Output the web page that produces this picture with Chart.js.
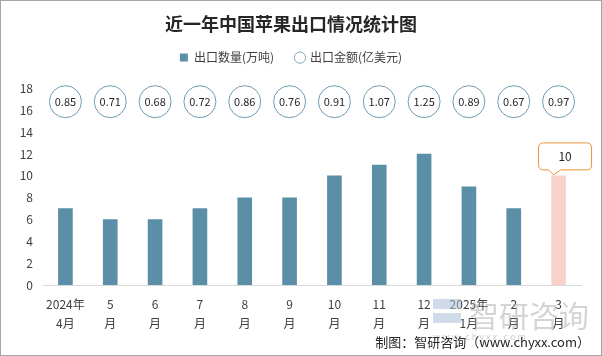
<!DOCTYPE html>
<html><head><meta charset="utf-8">
<script src="https://cdn.jsdelivr.net/npm/chart.js@4/dist/chart.umd.min.js"></script>
<style>
html,body{margin:0;padding:0;background:#fff;}
#wrap{width:602px;height:356px;box-sizing:border-box;border:1px solid #a6a6a6;position:relative;}
canvas{display:block;}
</style></head><body>
<div id="wrap"><canvas id="c" width="600" height="354"></canvas></div>
<script>
const categories = [["2024年","4月"],["5","月"],["6","月"],["7","月"],["8","月"],["9","月"],["10","月"],["11","月"],["12","月"],["2025年","1月"],["2","月"],["3","月"]];
const volume = [7,6,6,7,8,8,10,11,12,9,7,10];
const amount = [0.85,0.71,0.68,0.72,0.86,0.76,0.91,1.07,1.25,0.89,0.67,0.97];
const yTicks = [0,2,4,6,8,10,12,14,16,18];
const FONT = '"Noto Sans CJK SC","Noto Sans",sans-serif';
const barColor = '#5b8fa8';
const lastColor = '#f8d2c8';

const legendGap = {
  id:'legendGap',
  beforeInit(chart){
    const lg = chart.legend; const orig = lg.fit;
    lg.fit = function(){ orig.call(this); this.height += 15; };
  }
};

const overlay = {
  id:'overlay',
  afterDatasetsDraw(chart){
    const ctx = chart.ctx, xs = chart.scales.x, ys = chart.scales.y;
    const cy = ys.getPixelForValue(16.8);
    ctx.save();
    amount.forEach((v,i)=>{
      const cx = xs.getPixelForValue(i);
      ctx.beginPath(); ctx.arc(cx,cy,16,0,Math.PI*2);
      ctx.fillStyle='#fff'; ctx.fill();
      ctx.lineWidth=1; ctx.strokeStyle='#6f9bb1'; ctx.stroke();
      ctx.fillStyle='#262626'; ctx.font='11px '+FONT;
      ctx.textAlign='center'; ctx.textBaseline='middle';
      ctx.fillText(v.toFixed(2),cx,cy+0.5);
    });
    const li = volume.length-1;
    const bx = xs.getPixelForValue(li), by = ys.getPixelForValue(volume[li]);
    const w=53,h=27, left=bx-20, top=by-33, r=5;
    const bottom=top+h;
    ctx.beginPath();
    ctx.moveTo(left+r,top); ctx.lineTo(left+w-r,top); ctx.quadraticCurveTo(left+w,top,left+w,top+r);
    ctx.lineTo(left+w,bottom-r); ctx.quadraticCurveTo(left+w,bottom,left+w-r,bottom);
    ctx.lineTo(bx+2,bottom); ctx.lineTo(bx-5,by-1); ctx.lineTo(bx-10,bottom);
    ctx.lineTo(left+r,bottom); ctx.quadraticCurveTo(left,bottom,left,bottom-r);
    ctx.lineTo(left,top+r); ctx.quadraticCurveTo(left,top,left+r,top);
    ctx.closePath();
    ctx.fillStyle='#fff'; ctx.fill(); ctx.strokeStyle='#e8923a'; ctx.lineWidth=1; ctx.stroke();
    ctx.fillStyle='#262626'; ctx.font='12px '+FONT; ctx.textAlign='center'; ctx.textBaseline='middle';
    ctx.fillText(String(volume[li]), left+w/2, top+h/2);
    // watermark
    ctx.fillStyle='rgba(160,160,160,0.45)';
    ctx.font='30px '+FONT; ctx.textAlign='left'; ctx.textBaseline='alphabetic';
    ctx.fillText('智研咨询',468,326);
    ctx.fillStyle='rgba(170,190,215,0.55)';
    ctx.fillRect(432,298,28,10); ctx.fillRect(432,312,28,10);
    ctx.fillStyle='rgba(160,160,160,0.5)';
    ctx.font='9px '+FONT;
    ctx.fillText('w w w . c h y x x . c o m',432,339);
    ctx.fillStyle='#262626'; ctx.font='13px '+FONT; ctx.textAlign='right';
    ctx.fillText('制图：智研咨询（www.chyxx.com）',589,346);
    ctx.restore();
  }
};

new Chart(document.getElementById('c'),{
  type:'bar',
  data:{
    labels:categories,
    datasets:[
      {label:'出口数量(万吨)',data:volume,backgroundColor:volume.map((v,i)=>i===volume.length-1?lastColor:barColor),
       barThickness:14,pointStyle:'rect'},
      {type:'line',label:'出口金额(亿美元)',data:amount,yAxisID:'y2',showLine:false,pointRadius:0,
       pointStyle:'circle',backgroundColor:'#fff',borderColor:'#7fa6ba',borderWidth:1}
    ]
  },
  options:{
    responsive:false,animation:false,
    layout:{padding:{left:0,right:20,top:0,bottom:0}},
    plugins:{
      title:{display:true,text:'近一年中国苹果出口情况统计图',color:'#262626',
        font:{family:FONT,size:18,weight:'bold'},padding:{top:12,bottom:-5}},
      legend:{display:true,labels:{usePointStyle:true,boxWidth:8,boxHeight:8,padding:22,color:'#404040',
        font:{family:FONT,size:12},
        generateLabels(chart){
          return [
            {text:'出口数量(万吨)',fillStyle:barColor,strokeStyle:barColor,lineWidth:0,pointStyle:'rect',datasetIndex:0,fontColor:'#404040'},
            {text:'出口金额(亿美元)',fillStyle:'#fff',strokeStyle:'#7fa6ba',lineWidth:1,pointStyle:'circle',datasetIndex:1,fontColor:'#404040'}
          ];
        }}},
      tooltip:{enabled:false}
    },
    scales:{
      x:{grid:{display:false},border:{display:true,color:'#d9d9d9'},
        ticks:{color:'#404040',font:{family:FONT,size:12,lineHeight:1.6},maxRotation:0,autoSkip:false,padding:2},
        afterFit(s){s.height=70;}},
      y:{min:0,max:18,grid:{display:false,drawTicks:false},border:{display:false},
        afterBuildTicks(s){s.ticks=yTicks.map(v=>({value:v}));},
        ticks:{color:'#404040',font:{family:FONT,size:12},padding:10},
        afterFit(s){s.width=42;}},
      y2:{display:false,min:0,max:2}
    }
  },
  plugins:[legendGap,overlay]
});
</script>
</body></html>
